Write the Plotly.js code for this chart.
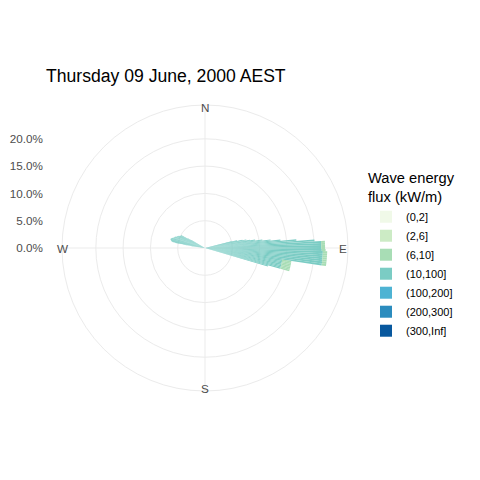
<!DOCTYPE html>
<html>
<head>
<meta charset="utf-8">
<script src="https://cdn.plot.ly/plotly-3.0.1.min.js"></script>
<style>html,body{margin:0;padding:0;background:#fff;}#chart{width:480px;height:480px;}</style>
</head>
<body>
<div id="chart"></div>
<script>
// Direction bins (compass degrees, clockwise from North)
const directions = [76,77,78,79,80,81,82,83,84,85,86,87,88,89,90,91,92,93,94,95,96,97,98,99,100,101,102,103,104,105,106,
  276,277,278,279,280,281,282,283,284,285,286,287,288,289,290,291,292,293,294,295,296,297,298,299,300];

// Percent of time for each wave-energy-flux class, per direction bin
const flux0to2     = directions.map(() => 0);
const flux2to6     = directions.map(() => 0);
const flux6to10    = [0,0,0,0,0,0,0,0,0,0,0,0.7,0.7,0.7,0.7,0.7,0.8,0.8,0.8,0.8,0.8,0.8,0.8,1.7,1.7,1.7,1.7,1.7,1.7,1.7,0,
  0,0,0,0,0,0,0,0,0,0,0,0,0,0,0,0,0,0,0,0,0,0,0,0,0];
const flux10to100  = [5.0,6.0,7.0,7.7,8.4,9.3,10.6,12.1,13.9,16.8,20.1,21.3,21.3,21.3,21.3,21.4,21.6,21.6,21.6,21.6,21.6,21.6,21.6,14.3,14.3,14.3,14.3,14.3,14.3,14.3,12.0,
  1.0,1.5,2.5,4.0,5.5,6.1,6.3,6.4,6.5,6.5,6.4,6.3,6.1,6.0,5.9,5.8,5.6,5.5,5.4,5.2,5.0,4.8,5.0,3.6,3.0];
const flux100to200 = directions.map(() => 0);
const flux200to300 = directions.map(() => 0);
const flux300toInf = directions.map(() => 0);

const classNames  = ['(0,2]','(2,6]','(6,10]','(10,100]','(100,200]','(200,300]','(300,Inf]'];
const classValues = [flux0to2, flux2to6, flux6to10, flux10to100, flux100to200, flux200to300, flux300toInf];
const classColors = ['#f0f9e8','#ccebc5','#a8ddb5','#7bccc4','#4eb3d3','#2b8cbe','#08589e'];

const compassTicks  = [0, 90, 180, 270];
const compassLabels = ['N', 'E', 'S', 'W'];
const radialTicks   = [0, 5, 10, 15, 20];
const radialLabels  = ['0.0%', '5.0%', '10.0%', '15.0%', '20.0%'];
const titleText = 'Thursday 09 June, 2000 AEST';

const R_MAX = 26.2;
const FONT = 'Liberation Sans, Arial, sans-serif';

// Stack highest class innermost: add traces in reverse order
const traces = [];
for (let i = classNames.length - 1; i >= 0; i--) {
  traces.push({
    type: 'barpolar',
    name: classNames[i],
    r: classValues[i],
    theta: directions,
    width: directions.map(() => 1),
    marker: {color: classColors[i], line: {width: 0}},
    hoverinfo: 'skip'
  });
}
// empty cartesian trace to host the left-side percentage axis
traces.push({type: 'scatter', x: [], y: [], showlegend: false, hoverinfo: 'skip'});

// polar geometry (pixels)
const cx = 205, cy = 248, rad = 143, W = 480, H = 480;

const annotations = compassLabels.map((lab, i) => {
  const ang = compassTicks[i] * Math.PI / 180;
  const off = [2, 5, 3, 0][i];
  const px = cx + (rad - off) * Math.sin(ang);
  const py = cy - (rad - off) * Math.cos(ang);
  return {
    text: lab, xref: 'paper', yref: 'paper',
    x: px / W, y: 1 - py / H, xanchor: 'center', yanchor: 'middle',
    showarrow: false, font: {family: FONT, size: 11.7, color: '#4d4d4d'}
  };
});

const layout = {
  width: W, height: H,
  margin: {l: 0, r: 0, t: 0, b: 0},
  paper_bgcolor: 'white',
  plot_bgcolor: 'rgba(0,0,0,0)',
  font: {family: FONT, color: '#000'},
  title: {
    text: titleText, x: 46 / W, xanchor: 'left', xref: 'paper',
    y: 1 - 76 / H, yanchor: 'middle', yref: 'paper',
    font: {family: FONT, size: 17.6, color: '#000'}
  },
  polar: {
    domain: {x: [(cx - rad) / W, (cx + rad) / W], y: [1 - (cy + rad) / H, 1 - (cy - rad) / H]},
    bgcolor: 'white',
    barmode: 'stack',
    bargap: 0,
    radialaxis: {
      range: [0, R_MAX], tickvals: radialTicks.slice(1), showticklabels: false,
      ticks: '', showline: false, gridcolor: '#ebebeb', gridwidth: 1
    },
    angularaxis: {
      rotation: 90, direction: 'clockwise', tickvals: compassTicks,
      showticklabels: false, ticks: '', gridcolor: '#ebebeb', gridwidth: 1,
      showline: true, linecolor: '#ebebeb', linewidth: 1
    }
  },
  xaxis: {
    domain: [44 / W, 58 / W], range: [0, 1], showgrid: false, zeroline: false,
    showticklabels: false, ticks: '', showline: false, fixedrange: true
  },
  yaxis: {
    domain: [1 - cy / H, 1 - (cy - rad) / H], range: [0, R_MAX],
    tickvals: radialTicks, ticktext: radialLabels,
    showgrid: false, zeroline: false, showline: false, ticks: '',
    tickfont: {family: FONT, size: 11.7, color: '#4d4d4d'}, fixedrange: true
  },
  legend: {
    x: 366 / W, xanchor: 'left', y: 1 - 164 / H, yanchor: 'top',
    title: {text: 'Wave energy<br>flux (kW/m)', font: {family: FONT, size: 14.7, color: '#000'}},
    font: {family: FONT, size: 11, color: '#000'},
    traceorder: 'reversed', bgcolor: 'rgba(0,0,0,0)', borderwidth: 0,
    itemwidth: 30
  },
  annotations: annotations,
  showlegend: true
};

Plotly.newPlot('chart', traces, layout, {staticPlot: true, displayModeBar: false});
</script>
</body>
</html>
